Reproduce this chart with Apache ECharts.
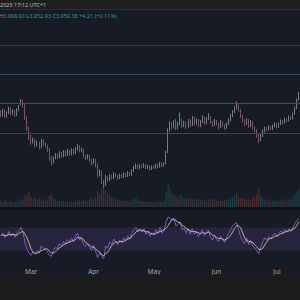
<!DOCTYPE html>
<html><head><meta charset="utf-8">
<script src="https://cdn.jsdelivr.net/npm/echarts@6/dist/echarts.min.js"></script>
<style>html,body{margin:0;padding:0;background:#171b26;}#c{width:300px;height:300px;}</style>
</head><body><div id="c"></div>
<script>
const startDate = '2025-02-14';
const monthLabels = ['Jan','Feb','Mar','Apr','May','Jun','Jul','Aug','Sep','Oct','Nov','Dec'];
const priceLevels = [4000, 3500, 3000, 2500];
const headerTime = '2025 17:12 UTC+1';
const headerOHLC = [['H','3,968.90'],['L','3,952.93'],['C','3,959.38']];
const headerChange = '+4.21 (+0.11%)';

const opens = [2850,2808,2876,2791,2842,2910,2825,2876,2808,2893,2994,3045,2960,2756,2585,2432,2347,2381,2296,2330,2262,2364,2313,2279,2210,2074,2006,2074,2125,2091,2159,2108,2176,2125,2193,2142,2210,2159,2228,2262,2193,2210,2108,2074,2108,2040,1989,2040,1955,1784,1835,1682,1614,1733,1699,1767,1733,1801,1767,1733,1784,1750,1801,1767,1818,1784,1852,1903,1938,1903,1938,1921,1955,1903,1938,1886,1921,1903,1955,1921,1989,1938,1972,2176,2551,2636,2602,2688,2585,2653,2722,2619,2670,2602,2705,2636,2756,2653,2722,2619,2688,2756,2670,2739,2773,2688,2636,2705,2653,2602,2688,2636,2585,2653,2722,2790,2858,2926,2960,2892,2790,2705,2653,2722,2619,2688,2585,2551,2466,2381,2449,2534,2585,2551,2602,2568,2619,2653,2602,2653,2705,2670,2739,2705,2773,2739,2824,2926,3063];
const closes = [2808,2876,2791,2842,2910,2825,2876,2808,2893,2944,3045,2960,2756,2585,2432,2347,2381,2296,2330,2262,2364,2313,2279,2210,2074,2006,2074,2125,2091,2159,2108,2176,2125,2193,2142,2210,2159,2228,2262,2193,2210,2108,2074,2108,2040,1989,2040,1955,1784,1835,1682,1614,1733,1699,1767,1733,1801,1767,1733,1784,1750,1801,1767,1818,1784,1852,1903,1938,1903,1938,1921,1955,1903,1938,1886,1921,1903,1955,1921,1989,1938,1972,2176,2551,2636,2602,2688,2585,2653,2722,2619,2670,2602,2705,2636,2756,2653,2722,2619,2688,2756,2670,2739,2773,2688,2636,2705,2653,2602,2688,2636,2585,2653,2722,2790,2858,2926,2960,2892,2790,2705,2653,2722,2619,2688,2585,2551,2466,2381,2449,2534,2585,2551,2602,2568,2619,2653,2602,2653,2705,2670,2739,2705,2773,2739,2824,2926,3063,3148];
const highs = [2885,2910,2900,2870,2950,2935,2905,2890,2925,2980,3080,3070,2990,2790,2610,2470,2420,2400,2370,2350,2400,2390,2340,2300,2240,2110,2100,2160,2150,2190,2180,2210,2200,2230,2215,2240,2230,2260,2310,2290,2250,2230,2130,2140,2125,2060,2070,2060,1980,1880,1860,1700,1780,1760,1800,1790,1830,1820,1785,1810,1800,1830,1820,1850,1835,1880,1940,1980,1960,1965,1960,1985,1970,1960,1950,1945,1940,1975,1970,2010,2000,2000,2200,2580,2700,2680,2720,2740,2690,2850,2750,2710,2700,2740,2730,2790,2780,2750,2740,2720,2800,2780,2770,2840,2790,2710,2740,2720,2670,2720,2700,2650,2680,2750,2820,2890,2960,3040,2990,2910,2810,2730,2750,2740,2720,2700,2610,2570,2490,2480,2560,2610,2600,2630,2620,2640,2680,2670,2680,2730,2720,2760,2750,2800,2790,2850,2950,3090,3200];
const lows = [2770,2780,2760,2765,2820,2800,2810,2775,2790,2870,2975,2930,2720,2540,2380,2300,2320,2250,2270,2220,2240,2280,2240,2170,2030,1950,1980,2050,2060,2070,2080,2090,2100,2110,2110,2120,2130,2140,2200,2170,2170,2080,2040,2050,2010,1950,1970,1920,1740,1760,1630,1560,1600,1670,1680,1710,1715,1745,1700,1715,1730,1735,1750,1750,1765,1770,1840,1890,1880,1890,1900,1905,1885,1890,1860,1870,1885,1890,1900,1910,1920,1925,1960,2160,2520,2560,2580,2550,2560,2630,2590,2600,2570,2590,2610,2620,2630,2640,2600,2600,2670,2640,2650,2720,2660,2600,2620,2630,2560,2590,2610,2550,2570,2640,2700,2770,2840,2900,2860,2760,2680,2620,2640,2590,2600,2560,2510,2420,2330,2360,2430,2510,2530,2540,2550,2550,2600,2580,2590,2640,2650,2660,2690,2700,2720,2730,2810,2910,3050];
const volumes = [18,15,20,14,16,19,13,15,17,20,24,22,35,40,45,30,25,28,22,26,24,20,18,22,32,38,26,22,18,20,17,19,16,18,15,17,16,20,22,19,17,22,20,18,24,28,22,30,48,38,55,72,50,40,36,30,28,24,22,20,18,20,17,19,16,22,26,30,22,20,17,18,16,15,17,16,14,18,16,20,15,18,45,70,55,40,35,32,28,38,30,26,24,28,22,25,20,24,22,20,22,20,18,24,22,26,20,18,24,20,18,22,20,24,28,30,34,42,30,26,28,24,22,26,20,28,30,38,55,34,28,24,20,22,18,20,22,18,20,24,20,22,18,24,22,30,38,46,52];
const rsi = [55,60,52,57,63,55,60,53,61,65,70,60,42,32,25,22,28,24,30,26,38,34,32,28,22,20,30,36,33,42,38,46,41,49,44,52,46,55,60,48,52,40,37,42,35,30,39,28,18,26,20,16,38,34,45,40,50,45,40,48,44,52,47,55,50,60,66,70,62,66,62,68,58,63,55,61,57,66,60,70,60,65,80,88,86,82,84,72,76,79,66,69,60,68,58,68,58,63,54,60,66,56,62,65,54,48,56,50,45,55,50,44,52,60,66,72,76,78,66,54,46,42,52,40,48,38,35,30,25,36,46,52,48,54,50,56,60,54,60,64,60,66,62,68,63,70,77,82,85];
const rsiMa = [57,57,56,56,58,57,58,57,57,60,62,63,58,51,42,32,27,25,26,27,30,31,33,33,29,26,26,28,31,35,37,40,42,43,45,46,47,49,53,52,52,49,44,42,39,36,36,33,29,28,23,21,25,27,33,39,42,45,44,46,45,46,48,50,51,54,58,62,65,66,65,64,62,63,60,59,58,60,61,63,64,66,69,73,79,84,85,81,79,78,73,72,68,66,64,63,63,62,61,59,61,60,60,62,60,57,56,53,51,51,50,48,50,52,56,62,68,73,73,69,61,52,47,46,45,44,40,37,32,32,34,40,45,50,51,52,55,55,57,59,60,62,63,64,65,67,69,74,80];

// category dates
const dates = [];
{
  const d0 = new Date(startDate + 'T00:00:00Z');
  for (let i = 0; i < closes.length; i++) {
    const d = new Date(d0.getTime() + i * 86400000);
    dates.push(d.toISOString().slice(0, 10));
  }
}
const candleData = closes.map((c, i) => [opens[i], c, lows[i], highs[i]]);
const volData = volumes.map((v, i) => ({
  value: v,
  itemStyle: { color: closes[i] >= opens[i] ? 'rgba(38,166,154,0.28)' : 'rgba(239,83,80,0.28)' }
}));
const levelColors = ['#2f3a4f', '#384866', '#3c4f6e', '#36455f'];

const chart = echarts.init(document.getElementById('c'), null, { renderer: 'svg', width: 300, height: 300 });
const font = '"Noto Sans", sans-serif';
const option = {
  backgroundColor: '#171b26',
  animation: false,
  grid: [
    { left: 0, right: 0, top: 10, height: 197 },
    { left: 0, right: 0, top: 160, height: 47 },
    { left: 0, right: 0, top: 210, height: 58 }
  ],
  xAxis: [0, 1, 2].map(g => ({
    type: 'category', gridIndex: g, data: dates, boundaryGap: true,
    axisLine: { show: false }, axisTick: { show: false }, splitLine: { show: false },
    axisLabel: g === 2 ? {
      show: true, margin: 0, color: '#a3a6af', fontSize: 6.5, fontFamily: font,
      interval: (idx, val) => val.slice(8) === '01',
      formatter: val => monthLabels[parseInt(val.slice(5, 7), 10) - 1]
    } : { show: false }
  })),
  yAxis: [
    { gridIndex: 0, min: 1238.7, max: 4596.6, show: false, splitLine: { show: false } },
    { gridIndex: 1, min: 0, max: 140, show: false, splitLine: { show: false } },
    { gridIndex: 2, min: 0, max: 100, show: false, splitLine: { show: false } }
  ],
  series: [
    {
      type: 'bar', xAxisIndex: 1, yAxisIndex: 1, data: volData, barWidth: 1.2, z: 1, silent: true
    },
    {
      type: 'candlestick', xAxisIndex: 0, yAxisIndex: 0, data: candleData, barWidth: 1, z: 3, silent: true,
      itemStyle: { color: '#b9bdc8', color0: '#b98590', borderColor: '#b9bdc8', borderColor0: '#b98590', borderWidth: 0.6 },
      markLine: {
        silent: true, symbol: 'none', label: { show: false },
        data: priceLevels.map((v, i) => ({ yAxis: v, lineStyle: { color: levelColors[i], width: 1, type: 'solid' } }))
      }
    },
    {
      type: 'line', xAxisIndex: 2, yAxisIndex: 2, data: rsi, symbol: 'none', z: 3, silent: true,
      lineStyle: { color: '#7e57c2', width: 1 },
      markArea: { silent: true, itemStyle: { color: 'rgba(126,87,194,0.16)' }, data: [[{ yAxis: 70 }, { yAxis: 30 }]] }
    },
    {
      type: 'line', xAxisIndex: 2, yAxisIndex: 2, data: rsiMa, symbol: 'none', z: 4, silent: true,
      lineStyle: { color: '#e3d696', width: 0.8 }
    }
  ],
  graphic: [
    { type: 'rect', left: 0, top: 0, shape: { width: 300, height: 9 }, style: { fill: '#1f201d' }, z: 10 },
    { type: 'rect', left: 0, top: 9, shape: { width: 300, height: 1 }, style: { fill: '#2b2e36' }, z: 10 },
    { type: 'rect', left: 0, top: 207, shape: { width: 300, height: 3 }, style: { fill: '#0f1118' }, z: 10 },
    { type: 'rect', left: 0, top: 275, shape: { width: 300, height: 25 }, style: { fill: '#1c1c1e' }, z: 10 },
    { type: 'text', left: 0, top: 2, z: 11, style: { text: headerTime, fill: '#b9bcc4', fontSize: 5.5, fontFamily: font } },
    {
      type: 'text', left: -1, top: 13, z: 11,
      style: {
        text: headerOHLC.map(p => '{l|' + p[0] + '}{v|' + p[1] + '}').join(' ') + ' {v|' + headerChange + '}',
        fontSize: 5.5, fontFamily: font,
        rich: { l: { fill: '#8d919b', fontSize: 5.5, fontFamily: font }, v: { fill: '#2f9a8c', fontSize: 5.5, fontFamily: font } }
      }
    }
  ]
};
chart.setOption(option);
</script></body></html>
